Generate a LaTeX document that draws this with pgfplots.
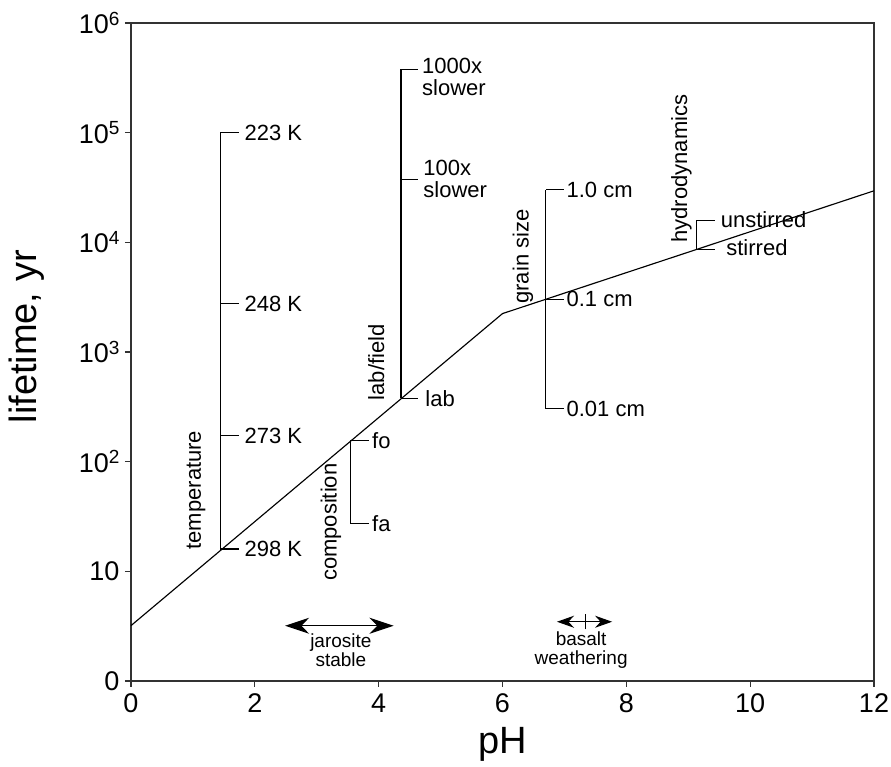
\documentclass[border=0pt]{standalone}
\usepackage{pgfplots}
\pgfplotsset{compat=1.18}
\usepackage{fontspec}
\setmainfont{Liberation Sans}
\usetikzlibrary{arrows.meta}
\newcommand\fs[1]{\fontsize{#1}{#1}\selectfont}
\newcommand\tp[1]{10\raisebox{8.5pt}{\fs{19}#1}}
\begin{document}
\begin{tikzpicture}
\path[use as bounding box] (-131pt,-86pt) rectangle (760pt,681pt);
\begin{semilogyaxis}[
 at={(0,0)}, anchor=south west,
 scale only axis, width=743pt, height=658pt,
 xmin=0, xmax=12, ymin=1, ymax=1e6,
 xtick={0,2,4,6,8,10,12}, xticklabels={0,2,4,6,8,10,12},
 ytick={1,10,100,1000,10000,100000,1000000},
 yticklabels={0,10,\tp{2},\tp{3},\tp{4},\tp{5},\tp{6}},
 yminorticks=false,
 xtick pos=bottom, ytick pos=left,
 tick align=outside, major tick length=6pt,
 tick style={line width=1.2pt, color=black!80},
 axis line style={line width=1.5pt, black!80},
 ticklabel style={font=\fs{27}},
 xticklabel style={yshift=-3pt},
 yticklabel style={xshift=-2pt},
 xlabel={pH}, ylabel={lifetime, yr},
 label style={font=\fs{38}},
 xlabel style={at={(axis description cs:0.5,-0.097)}, anchor=center},
 ylabel style={at={(axis description cs:-0.140,0.523)}, anchor=center},
 clip=false,
 cycle list={{black,solid,mark=none}},
 every axis plot post/.append style={line width=1.15pt, black, solid, mark=none},
]
% main lifetime curve
\addplot coordinates {(0,3.2) (6,2240) (12,29500)};

% temperature bracket
\addplot coordinates {(1.44,16) (1.44,100000)};
\addplot coordinates {(1.44,100000) (1.74,100000)};
\addplot coordinates {(1.44,2750) (1.74,2750)};
\addplot coordinates {(1.44,172) (1.74,172)};
\addplot coordinates {(1.44,16) (1.74,16)};
\node[anchor=west,font=\fs{22},inner sep=2pt] at (axis cs:1.80,100000) {223 K};
\node[anchor=west,font=\fs{22},inner sep=2pt] at (axis cs:1.80,2750) {248 K};
\node[anchor=west,font=\fs{22},inner sep=2pt] at (axis cs:1.80,172) {273 K};
\node[anchor=west,font=\fs{22},inner sep=2pt] at (axis cs:1.80,16) {298 K};
\node[rotate=90,font=\fs{22}] at (axis cs:1.05,55) {temperature};

% composition bracket
\addplot coordinates {(3.54,155) (3.54,27.5)};
\addplot coordinates {(3.54,155) (3.84,155)};
\addplot coordinates {(3.54,27.5) (3.84,27.5)};
\node[anchor=west,font=\fs{22},inner sep=2pt] at (axis cs:3.86,155) {fo};
\node[anchor=west,font=\fs{22},inner sep=2pt] at (axis cs:3.86,27.5) {fa};
\node[rotate=90,font=\fs{22}] at (axis cs:3.23,28) {composition};

% lab/field bracket
\addplot coordinates {(4.36,377) (4.36,377000)};
\addplot coordinates {(4.36,377000) (4.64,377000)};
\addplot coordinates {(4.36,37700) (4.64,37700)};
\addplot coordinates {(4.36,377) (4.64,377)};
\node[anchor=north west,font=\fs{22},align=left,inner sep=0pt,yshift=12pt] at (axis cs:4.70,377000) {1000x\\slower};
\node[anchor=west,font=\fs{22},align=left,inner sep=0pt] at (axis cs:4.72,37700) {100x\\slower};
\node[anchor=west,font=\fs{22},inner sep=2pt] at (axis cs:4.72,377) {lab};
\node[rotate=90,font=\fs{22}] at (axis cs:3.96,804) {lab/field};

% grain size bracket
\addplot coordinates {(6.70,303) (6.70,30300)};
\addplot coordinates {(6.70,30300) (6.99,30300)};
\addplot coordinates {(6.70,3030) (6.99,3030)};
\addplot coordinates {(6.70,303) (6.99,303)};
\node[anchor=west,font=\fs{22},inner sep=2pt] at (axis cs:7.0,30300) {1.0 cm};
\node[anchor=west,font=\fs{22},inner sep=2pt] at (axis cs:7.0,3030) {0.1 cm};
\node[anchor=west,font=\fs{22},inner sep=2pt] at (axis cs:7.0,303) {0.01 cm};
\node[rotate=90,font=\fs{22}] at (axis cs:6.33,7420) {grain size};

% hydrodynamics bracket
\addplot coordinates {(9.14,8650) (9.14,15850)};
\addplot coordinates {(9.14,15850) (9.43,15850)};
\addplot coordinates {(9.14,8650) (9.43,8650)};
\node[anchor=west,font=\fs{22},inner sep=2pt] at (axis cs:9.49,16200) {unstirred};
\node[anchor=west,font=\fs{22},inner sep=2pt] at (axis cs:9.58,9000) {stirred};
\node[rotate=90,font=\fs{22}] at (axis cs:8.89,46900) {hydrodynamics};

% jarosite stable
\addplot+[line width=1pt, {Stealth[length=24pt,width=16pt]}-{Stealth[length=24pt,width=16pt]}] coordinates {(2.49,3.19) (4.24,3.19)};
\node[font=\fs{19},align=center,inner sep=0pt] at (axis cs:3.39,1.92) {jarosite\\stable};

% basalt weathering
\addplot+[line width=1pt, {Stealth[length=17pt,width=12pt]}-{Stealth[length=17pt,width=12pt]}] coordinates {(6.88,3.47) (7.77,3.47)};
\addplot+[line width=1pt] coordinates {(7.34,2.95) (7.34,4.1)};
\node[font=\fs{19},align=center,inner sep=0pt] at (axis cs:7.27,1.92) {basalt\\weathering};
\end{semilogyaxis}
\end{tikzpicture}
\end{document}
